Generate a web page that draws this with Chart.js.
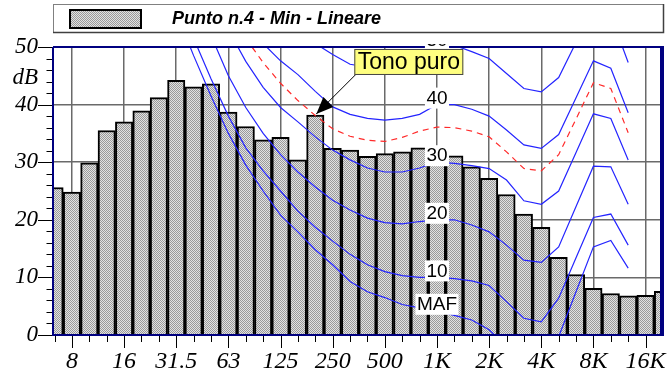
<!DOCTYPE html>
<html>
<head>
<meta charset="utf-8">
<script src="https://cdn.jsdelivr.net/npm/chart.js@4.4.1/dist/chart.umd.min.js"></script>
<style>
  html, body { margin: 0; padding: 0; background: #fff; }
  canvas { display: block; }
</style>
</head>
<body>
<canvas id="chart" width="669" height="372"></canvas>
<script>
// ===== Data =====
// third-octave bands 6.3 Hz .. 20 kHz, the index is the x position
const bands = ['6.3', '8', '10', '12.5', '16', '20', '25', '31.5', '40', '50', '63', '80',
  '100', '125', '160', '200', '250', '315', '400', '500', '630', '800', '1K', '1.25K',
  '1.6K', '2K', '2.5K', '3.15K', '4K', '5K', '6.3K', '8K', '10K', '12.5K', '16K', '20K'];

// measured spectrum, dB
const levels = [25.6, 24.8, 29.9, 35.5, 37.0, 38.9, 41.2, 44.2, 43.1, 43.6, 38.7, 36.2,
  33.9, 34.3, 30.4, 38.2, 32.4, 32.1, 31.0, 31.5, 31.8, 32.5, 31.3, 31.1,
  29.2, 27.2, 24.4, 21.0, 18.7, 13.5, 10.5, 8.1, 7.2, 6.8, 6.9, 7.6];

// octave ticks on the frequency axis (band index -> label)
const octaveIdx = [1, 4, 7, 10, 13, 16, 19, 22, 25, 28, 31, 34];
const octaveLabels = ['8', '16', '31.5', '63', '125', '250', '500', '1K', '2K', '4K', '8K', '16K'];

// isophone curves, dB per band from 6.3 Hz to 12.5 kHz (null = not drawn)
const N = null;
const curveMAF = [N, N, N, N, N, N, N, 56, 48.5, 41.5, 35, 29.5, 25, 20.8, 17.9, 14.8, 12.2, 9.3,
  7.5, 6.5, 5.3, 4.7, 4.2, 3.4, 2.6, 0.9, -2, -5, -5.5, -0.3, 7.5, 15.3, 16.4, 11.6];
const curve10 = [N, N, N, N, N, N, N, N, 51.5, 44.5, 38, 32.5, 28.5, 25, 21.5, 18.7, 16.3, 14,
  12.2, 11.0, 10.3, 10.0, 10, 9.8, 9.4, 8.6, 5.8, 2.9, 2.3, 6.4, 13.4, 20.4, 21.0, 15.6];
const curve20 = [N, N, N, N, N, N, N, N, N, 52, 45, 39.5, 35, 31.3, 28.3, 25.7, 23.4, 21.7,
  20.3, 19.5, 19.3, 19.7, 20, 20, 19.1, 17.9, 15.6, 13.0, 12.6, 15.3, 22.3, 29.3, 29.2, 22.7];
const curve30 = [N, N, N, N, N, N, N, N, N, N, 53, 47.5, 43, 39.5, 37.0, 34.4, 32.1, 30.4,
  29.0, 28.3, 28.3, 29.0, 30, 29.8, 29.4, 28.9, 26.9, 23.3, 22.7, 25.0, 31.7, 38.4, 37.6, 30.4];
const curve35 = [N, N, N, N, N, N, N, N, N, N, N, 51.5, 47.3, 43.7, 40.7, 38.1, 35.8, 34.5,
  33.8, 33.6, 34.3, 35.4, 36.1, 36.0, 35.4, 34.4, 31.8, 28.9, 28.5, 31.3, 37.5, 43.8, 42.8, 35.1];
const curve40 = [N, N, N, N, N, N, N, N, N, N, N, 54, 50.6, 47.6, 45.2, 42.3, 39.6, 38.3,
  37.6, 37.3, 37.6, 38.3, 40, 40, 39.2, 38.0, 35.6, 33.0, 32.4, 34.8, 41.2, 47.6, 46.3, 38.6];
const curve50 = [N, N, N, N, N, N, N, N, N, N, N, N, N, N, 53, 50.6, 48.7, 47.0,
  46.5, 46.5, 47.0, 47.8, 50, 50.3, 49.2, 48.0, 45.4, 42.8, 42.2, 44.7, 50.8, 57, 55.5, 47.3];

const curveLabels = ['MAF', '10', '20', '30', '40', '50'];
const labelBand = 22; // curve labels sit on the 1 kHz band

const legendText = 'Punto n.4 - Min - Lineare';
const noteText = 'Tono puro';
const noteBand = 15;

// ===== Helpers =====
const canvas = document.getElementById('chart');
const ctx = canvas.getContext('2d');

function makeHatch() {
  const c = document.createElement('canvas');
  c.width = 2; c.height = 2;
  const g = c.getContext('2d');
  g.fillStyle = '#e2e2e2'; g.fillRect(0, 0, 2, 2);
  g.fillStyle = '#9a9a9a'; g.fillRect(0, 0, 1, 1); g.fillRect(1, 1, 1, 1);
  return ctx.createPattern(c, 'repeat');
}
const hatch = makeHatch();

const toPoints = arr => arr.map((v, i) => (v === null ? null : { x: i, y: v })).filter(p => p);

function curve(data, label, dashed) {
  return {
    type: 'line', label, data: toPoints(data),
    borderColor: dashed ? '#ff2a2a' : '#2424ff',
    borderWidth: 1.2,
    borderDash: dashed ? [6, 5] : [],
    pointRadius: 0, fill: false, tension: 0, order: 0,
  };
}

const SERIF = '"Liberation Serif", "Times New Roman", serif';
const SANS = '"Liberation Sans", Arial, sans-serif';

Chart.defaults.font.family = SERIF;
Chart.defaults.font.style = 'italic';

// frame, tick marks, curve labels, note and legend
const decor = {
  id: 'decor',
  afterDatasetsDraw(chart) {
    const { ctx: c, chartArea: a, scales: { x, y } } = chart;
    c.save();

    // tick marks: long on octaves / every 10 dB, short otherwise
    c.strokeStyle = '#000';
    c.lineWidth = 1;
    for (let i = 0; i <= 34; i++) {
      const px = Math.round(x.getPixelForValue(i)) + 0.5;
      const len = octaveIdx.includes(i) ? 13 : 7;
      c.beginPath(); c.moveTo(px, a.bottom); c.lineTo(px, a.bottom + len); c.stroke();
    }
    for (let v = 0; v <= 50; v += 2) {
      const py = Math.round(y.getPixelForValue(v)) + 0.5;
      const len = v % 10 === 0 ? 15 : 6.5;
      c.beginPath(); c.moveTo(a.left - len, py); c.lineTo(a.left, py); c.stroke();
    }

    // plot frame
    c.strokeStyle = '#000080';
    c.lineWidth = 2;
    c.beginPath();
    c.moveTo(a.left, a.top); c.lineTo(a.left, a.bottom); c.lineTo(a.right + 2, a.bottom);
    c.moveTo(a.left, a.top); c.lineTo(a.right + 2, a.top);
    c.stroke();
    c.lineWidth = 4;
    c.beginPath(); c.moveTo(a.right + 2, a.top - 1); c.lineTo(a.right + 2, a.bottom + 1); c.stroke();

    // "dB" unit
    c.fillStyle = '#000';
    c.font = 'italic 23px ' + SERIF;
    c.textAlign = 'right';
    c.textBaseline = 'alphabetic';
    c.fillText('dB', a.left - 15, y.getPixelForValue(45) + 8);

    // curve labels on white boxes
    const curves = [curveMAF, curve10, curve20, curve30, curve40, curve50];
    c.save();
    c.beginPath(); c.rect(0, a.top - 3, chart.width, chart.height); c.clip();
    c.font = '19px ' + SANS;
    c.textAlign = 'center';
    c.textBaseline = 'middle';
    curves.forEach((cv, k) => {
      const t = curveLabels[k];
      const cx = x.getPixelForValue(labelBand);
      const cy = y.getPixelForValue(cv[labelBand]) - 7;
      const w = c.measureText(t).width + 3;
      c.fillStyle = '#fff';
      c.fillRect(cx - w / 2, cy - 10, w, 21);
      c.fillStyle = '#000';
      c.fillText(t, cx, cy + 1);
    });
    c.restore();

    // "Tono puro" note with arrow to the band top
    const tx = x.getPixelForValue(noteBand) + 1;
    const ty = y.getPixelForValue(levels[noteBand]) - 1;
    const bx = tx + 38, by = ty - 65, bw = 109, bh = 26;
    const sx = bx + 1, sy = by + bh;
    c.strokeStyle = '#000';
    c.lineWidth = 1;
    c.beginPath(); c.moveTo(sx, sy); c.lineTo(tx, ty); c.stroke();
    const ang = Math.atan2(ty - sy, tx - sx);
    const hl = 17, hw = 7;
    const hx = tx - hl * Math.cos(ang), hy = ty - hl * Math.sin(ang);
    c.fillStyle = '#000';
    c.beginPath();
    c.moveTo(tx, ty);
    c.lineTo(hx + hw * Math.sin(ang), hy - hw * Math.cos(ang));
    c.lineTo(hx - hw * Math.sin(ang), hy + hw * Math.cos(ang));
    c.closePath(); c.fill();
    c.fillStyle = '#ffff80';
    c.fillRect(bx, by, bw, bh);
    c.strokeStyle = '#444';
    c.strokeRect(bx + 0.5, by + 0.5, bw - 1, bh - 1);
    c.fillStyle = '#000';
    c.font = '23px ' + SANS;
    c.textAlign = 'center';
    c.textBaseline = 'middle';
    c.fillText(noteText, bx + bw / 2, by + bh / 2 + 1);

    // legend box, as wide as the plot
    const lx = a.left, ly = 4, lw = a.right + 4 - a.left, lh = 29;
    c.fillStyle = '#fff';
    c.fillRect(lx, ly, lw, lh);
    c.strokeStyle = '#808080';
    c.lineWidth = 1;
    c.strokeRect(lx + 0.5, ly + 0.5, lw - 1, lh - 1);
    c.strokeStyle = '#404040';
    c.lineWidth = 1.5;
    c.beginPath(); c.moveTo(lx + lw - 0.5, ly); c.lineTo(lx + lw - 0.5, ly + lh - 0.5); c.lineTo(lx, ly + lh - 0.5); c.stroke();
    c.fillStyle = hatch;
    c.fillRect(lx + 17, ly + 6, 71, 18);
    c.strokeStyle = '#000';
    c.lineWidth = 2;
    c.strokeRect(lx + 17, ly + 6, 71, 18);
    c.fillStyle = '#000';
    c.font = 'italic bold 18px ' + SANS;
    c.textAlign = 'left';
    c.textBaseline = 'middle';
    c.fillText(legendText, lx + 119, ly + lh / 2 + 1);

    c.restore();
  }
};

// ===== Chart =====
new Chart(canvas, {
  type: 'bar',
  data: {
    datasets: [
      curve(curveMAF, 'MAF'),
      curve(curve10, '10 phon'),
      curve(curve20, '20 phon'),
      curve(curve30, '30 phon'),
      curve(curve35, 'soglia', true),
      curve(curve40, '40 phon'),
      curve(curve50, '50 phon'),
      {
        type: 'bar', label: legendText,
        data: levels.map((v, i) => ({ x: i, y: v })),
        backgroundColor: hatch,
        borderColor: '#000',
        borderWidth: 2,
        borderSkipped: 'bottom',
        barPercentage: 1,
        categoryPercentage: 1,
        order: 1,
      }
    ]
  },
  options: {
    responsive: false,
    animation: false,
    devicePixelRatio: 1,
    layout: { padding: { top: 47, right: 9, left: 0, bottom: 0 } },
    plugins: { legend: { display: false }, tooltip: { enabled: false } },
    scales: {
      x: {
        type: 'linear',
        offset: false,
        min: -0.09,
        max: 34.83,
        afterBuildTicks: s => { s.ticks = bands.slice(0, 35).map((_, i) => ({ value: i })); },
        afterFit: s => { s.height = 37; s.paddingLeft = 0; s.paddingRight = 0; },
        border: { display: false },
        grid: {
          offset: false,
          drawTicks: false,
          lineWidth: 1.5,
          color: c => (octaveIdx.includes(c.tick && c.tick.value) ? '#6a6a6a' : 'transparent'),
        },
        ticks: {
          autoSkip: false, maxRotation: 0, padding: 12, color: '#000',
          font: { family: SERIF, size: 24, style: 'italic' },
          callback: v => { const k = octaveIdx.indexOf(v); return k < 0 ? '' : octaveLabels[k]; },
        },
      },
      y: {
        min: 0,
        max: 50,
        afterBuildTicks: s => { s.ticks = Array.from({ length: 26 }, (_, k) => ({ value: k * 2 })); },
        afterFit: s => { s.width = 53; s.paddingTop = 0; s.paddingBottom = 0; },
        border: { display: false },
        grid: {
          drawTicks: false,
          lineWidth: 1.5,
          color: c => {
            const v = c.tick && c.tick.value;
            return v > 0 && v < 50 && v % 10 === 0 ? '#6a6a6a' : 'transparent';
          },
        },
        ticks: {
          autoSkip: false, padding: 15, color: '#000',
          font: { family: SERIF, size: 23, style: 'italic' },
          callback: v => (v % 10 === 0 ? String(v) : ''),
        },
      },
    },
  },
  plugins: [decor],
});
</script>
</body>
</html>
